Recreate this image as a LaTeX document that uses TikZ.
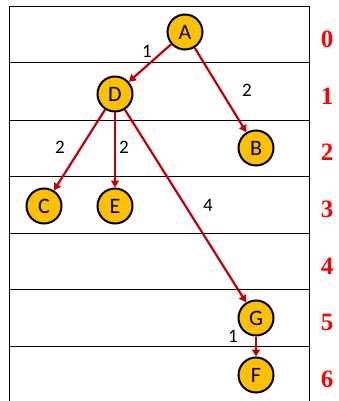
\documentclass[tikz,border=0pt]{standalone}
\usepackage{fontspec}
\setmainfont{Carlito}
\newfontfamily\rowfont{Liberation Serif}
\usetikzlibrary{arrows.meta}
\definecolor{nodefill}{HTML}{FFC000}
\definecolor{edgered}{HTML}{C00000}
\definecolor{rowred}{HTML}{FF0000}
\begin{document}
\begin{tikzpicture}[x=1pt,y=-1pt,
  vtx/.style={circle,draw=black,line width=2pt,fill=nodefill,minimum size=35pt,inner sep=0pt,font=\fontsize{22}{22}\selectfont},
  edge/.style={draw=edgered,line width=2.2pt,-{Triangle[length=7pt,width=8pt]}},
  wlab/.style={font=\fontsize{19}{19}\selectfont,inner sep=0pt},
  rlab/.style={font=\rowfont\bfseries\fontsize{25}{25}\selectfont,text=rowred,inner sep=0pt},
  grid/.style={draw=black,line width=1pt}]
\useasboundingbox (0,0) rectangle (338,401);
% grid
\draw[grid] (9,403) -- (9,6.5) -- (309,6.5) -- (309,403);
\foreach \y in {63,120,176.5,233,289.5,346} {\draw[grid] (9,\y) -- (309,\y);}
% nodes
\node[vtx] (A) at (185,32) {A};
\node[vtx] (D) at (115,94) {D};
\node[vtx] (B) at (256,148) {B};
\node[vtx] (C) at (44,206) {C};
\node[vtx] (E) at (115,206) {E};
\node[vtx] (G) at (256,318) {G};
\node[vtx] (F) at (256,375) {F};
% edges
\draw[edge] (A) -- (D);
\draw[edge] (A) -- (B);
\draw[edge] (D) -- (C);
\draw[edge] (D) -- (E);
\draw[edge] (D) -- (G);
\draw[edge] (G) -- (F);
% weights
\node[wlab] (w1) at (147,51) {1};
\node[wlab] (w2) at (247,90) {2};
\node[wlab] (w3) at (60,147) {2};
\node[wlab] (w4) at (124,147) {2};
\node[wlab] (w5) at (208,205) {4};
\node[wlab] (w6) at (233,336) {1};
% row labels
\node[rlab] (r0) at (327,39) {0};
\node[rlab] (r1) at (327,96) {1};
\node[rlab] (r2) at (327,152) {2};
\node[rlab] (r3) at (327,209) {3};
\node[rlab] (r4) at (327,266) {4};
\node[rlab] (r5) at (327,322) {5};
\node[rlab] (r6) at (327,379) {6};
\end{tikzpicture}
\end{document}
